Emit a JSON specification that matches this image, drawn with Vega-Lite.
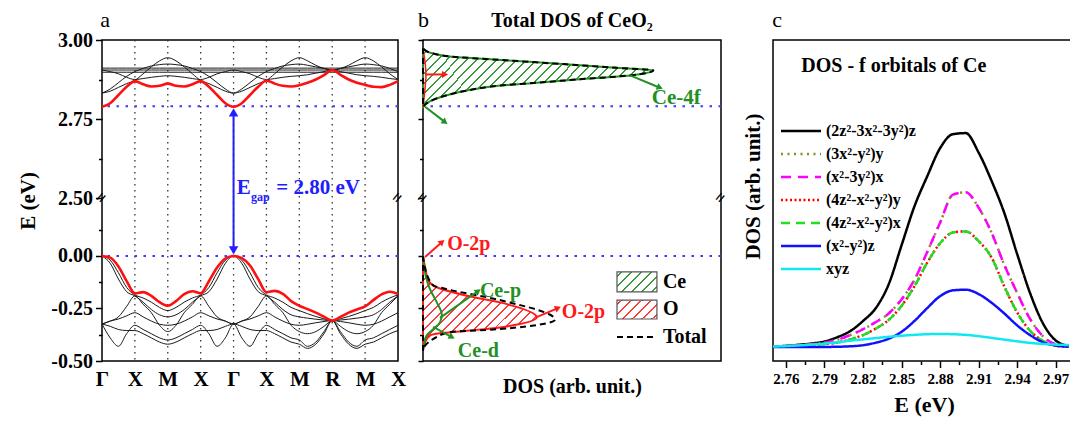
{
"$schema": "https://vega.github.io/schema/vega-lite/v6.json",
"background": "white",
"padding": {"left": 17, "top": 8, "right": 0, "bottom": 0},
"bounds": "full",
"spacing": 9,
"resolve": {"legend": {"color": "independent", "strokeDash": "independent"}},
"datasets": {
 "ceCB": [{"E":2.788,"d":0},{"E":2.806,"d":0.023},{"E":2.822,"d":0.068},{"E":2.84,"d":0.147},{"E":2.856,"d":0.26},{"E":2.864,"d":0.37},{"E":2.875,"d":0.516},{"E":2.888,"d":0.695},{"E":2.904,"d":0.773},{"E":2.912,"d":0.65},{"E":2.923,"d":0.48},{"E":2.937,"d":0.26},{"E":2.948,"d":0.09},{"E":2.957,"d":0.035},{"E":2.971,"d":0.003}],
 "oVB": [{"E":-0.451,"d":0},{"E":-0.411,"d":0.007},{"E":-0.379,"d":0.023},{"E":-0.368,"d":0.057},{"E":-0.356,"d":0.147},{"E":-0.34,"d":0.258},{"E":-0.292,"d":0.382},{"E":-0.221,"d":0.258},{"E":-0.189,"d":0.147},{"E":-0.149,"d":0.046},{"E":-0.117,"d":0.018},{"E":-0.054,"d":0.007},{"E":0,"d":0}],
 "oCB": [{"E":2.788,"d":0},{"E":2.82,"d":0.004},{"E":2.86,"d":0.008},{"E":2.89,"d":0.01},{"E":2.92,"d":0.008},{"E":2.95,"d":0.004},{"E":2.97,"d":0}],
 "ceVB": [{"E":-0.45,"d":0},{"E":-0.419,"d":0.004},{"E":-0.379,"d":0.012},{"E":-0.348,"d":0.035},{"E":-0.316,"d":0.057},{"E":-0.276,"d":0.063},{"E":-0.22,"d":0.046},{"E":-0.157,"d":0.023},{"E":-0.094,"d":0.009},{"E":-0.046,"d":0.004},{"E":0,"d":0}],
 "totVB": [{"E":-0.451,"d":0},{"E":-0.427,"d":0.007},{"E":-0.395,"d":0.035},{"E":-0.363,"d":0.09},{"E":-0.348,"d":0.258},{"E":-0.303,"d":0.443},{"E":-0.21,"d":0.258},{"E":-0.154,"d":0.068},{"E":-0.141,"d":0.035},{"E":-0.06,"d":0.007},{"E":0,"d":0}]
},
"hconcat": [
 {"bounds": "flush", "spacing": 25, "hconcat": [
  {
   "width": 296, "height": 321,
   "data": {"values": [
    {"k":0,"rc":2.789,"rv":0,"c1":2.911,"c2":2.905,"c3":2.898,"c4":2.832,"c5":2.832,"c6":2.905,"v1":0,"v2":0,"v3":-0.324,"v4":-0.324,"v5":-0.324,"v6":-0.324},
    {"k":0.25,"rc":2.8,"rv":-0.008,"c1":2.911,"c2":2.905,"c3":2.898,"c4":2.838,"c5":2.845,"c6":2.9,"v1":-0.02,"v2":-0.035,"v3":-0.31,"v4":-0.39,"v5":-0.31,"v6":-0.335},
    {"k":0.5,"rc":2.826,"rv":-0.05,"c1":2.911,"c2":2.905,"c3":2.898,"c4":2.85,"c5":2.865,"c6":2.893,"v1":-0.08,"v2":-0.11,"v3":-0.3,"v4":-0.43,"v5":-0.29,"v6":-0.35},
    {"k":0.75,"rc":2.852,"rv":-0.12,"c1":2.911,"c2":2.905,"c3":2.898,"c4":2.862,"c5":2.885,"c6":2.882,"v1":-0.15,"v2":-0.17,"v3":-0.285,"v4":-0.37,"v5":-0.24,"v6":-0.355},
    {"k":1,"rc":2.87,"rv":-0.178,"c1":2.911,"c2":2.905,"c3":2.898,"c4":2.872,"c5":2.9,"c6":2.875,"v1":-0.185,"v2":-0.19,"v3":-0.27,"v4":-0.33,"v5":-0.19,"v6":-0.355},
    {"k":1.25,"rc":2.86,"rv":-0.172,"c1":2.911,"c2":2.905,"c3":2.898,"c4":2.893,"c5":2.91,"c6":2.878,"v1":-0.2,"v2":-0.22,"v3":-0.29,"v4":-0.35,"v5":-0.23,"v6":-0.37},
    {"k":1.5,"rc":2.853,"rv":-0.19,"c1":2.911,"c2":2.905,"c3":2.898,"c4":2.915,"c5":2.918,"c6":2.882,"v1":-0.22,"v2":-0.255,"v3":-0.31,"v4":-0.37,"v5":-0.27,"v6":-0.39},
    {"k":1.75,"rc":2.855,"rv":-0.22,"c1":2.911,"c2":2.905,"c3":2.898,"c4":2.934,"c5":2.922,"c6":2.885,"v1":-0.245,"v2":-0.28,"v3":-0.325,"v4":-0.39,"v5":-0.33,"v6":-0.41},
    {"k":2,"rc":2.862,"rv":-0.237,"c1":2.911,"c2":2.905,"c3":2.898,"c4":2.944,"c5":2.924,"c6":2.887,"v1":-0.26,"v2":-0.29,"v3":-0.33,"v4":-0.4,"v5":-0.36,"v6":-0.42},
    {"k":2.25,"rc":2.855,"rv":-0.215,"c1":2.911,"c2":2.905,"c3":2.898,"c4":2.934,"c5":2.922,"c6":2.885,"v1":-0.245,"v2":-0.28,"v3":-0.325,"v4":-0.39,"v5":-0.33,"v6":-0.41},
    {"k":2.5,"rc":2.853,"rv":-0.182,"c1":2.911,"c2":2.905,"c3":2.898,"c4":2.915,"c5":2.918,"c6":2.882,"v1":-0.22,"v2":-0.255,"v3":-0.31,"v4":-0.37,"v5":-0.27,"v6":-0.39},
    {"k":2.75,"rc":2.86,"rv":-0.168,"c1":2.911,"c2":2.905,"c3":2.898,"c4":2.893,"c5":2.91,"c6":2.878,"v1":-0.2,"v2":-0.22,"v3":-0.29,"v4":-0.35,"v5":-0.23,"v6":-0.37},
    {"k":3,"rc":2.87,"rv":-0.178,"c1":2.911,"c2":2.905,"c3":2.898,"c4":2.872,"c5":2.9,"c6":2.875,"v1":-0.185,"v2":-0.19,"v3":-0.27,"v4":-0.33,"v5":-0.19,"v6":-0.355},
    {"k":3.25,"rc":2.852,"rv":-0.12,"c1":2.911,"c2":2.905,"c3":2.898,"c4":2.862,"c5":2.885,"c6":2.882,"v1":-0.15,"v2":-0.17,"v3":-0.285,"v4":-0.37,"v5":-0.24,"v6":-0.355},
    {"k":3.5,"rc":2.826,"rv":-0.055,"c1":2.911,"c2":2.905,"c3":2.898,"c4":2.85,"c5":2.865,"c6":2.893,"v1":-0.08,"v2":-0.11,"v3":-0.3,"v4":-0.43,"v5":-0.29,"v6":-0.35},
    {"k":3.75,"rc":2.8,"rv":-0.012,"c1":2.911,"c2":2.905,"c3":2.898,"c4":2.838,"c5":2.845,"c6":2.9,"v1":-0.02,"v2":-0.035,"v3":-0.31,"v4":-0.39,"v5":-0.31,"v6":-0.335},
    {"k":4,"rc":2.789,"rv":0,"c1":2.911,"c2":2.905,"c3":2.898,"c4":2.832,"c5":2.832,"c6":2.905,"v1":0,"v2":0,"v3":-0.324,"v4":-0.324,"v5":-0.324,"v6":-0.324},
    {"k":4.25,"rc":2.8,"rv":-0.01,"c1":2.911,"c2":2.905,"c3":2.898,"c4":2.838,"c5":2.845,"c6":2.9,"v1":-0.02,"v2":-0.035,"v3":-0.31,"v4":-0.39,"v5":-0.31,"v6":-0.335},
    {"k":4.5,"rc":2.826,"rv":-0.045,"c1":2.911,"c2":2.905,"c3":2.898,"c4":2.85,"c5":2.865,"c6":2.893,"v1":-0.08,"v2":-0.11,"v3":-0.3,"v4":-0.43,"v5":-0.29,"v6":-0.35},
    {"k":4.75,"rc":2.852,"rv":-0.11,"c1":2.911,"c2":2.905,"c3":2.898,"c4":2.862,"c5":2.885,"c6":2.882,"v1":-0.15,"v2":-0.17,"v3":-0.285,"v4":-0.37,"v5":-0.24,"v6":-0.355},
    {"k":5,"rc":2.872,"rv":-0.173,"c1":2.911,"c2":2.905,"c3":2.898,"c4":2.872,"c5":2.9,"c6":2.875,"v1":-0.185,"v2":-0.19,"v3":-0.27,"v4":-0.33,"v5":-0.19,"v6":-0.355},
    {"k":5.25,"rc":2.862,"rv":-0.166,"c1":2.911,"c2":2.905,"c3":2.898,"c4":2.893,"c5":2.91,"c6":2.878,"v1":-0.2,"v2":-0.22,"v3":-0.29,"v4":-0.35,"v5":-0.23,"v6":-0.37},
    {"k":5.5,"rc":2.855,"rv":-0.18,"c1":2.911,"c2":2.905,"c3":2.898,"c4":2.915,"c5":2.918,"c6":2.882,"v1":-0.22,"v2":-0.255,"v3":-0.31,"v4":-0.37,"v5":-0.27,"v6":-0.39},
    {"k":5.75,"rc":2.853,"rv":-0.215,"c1":2.911,"c2":2.905,"c3":2.898,"c4":2.934,"c5":2.922,"c6":2.885,"v1":-0.245,"v2":-0.28,"v3":-0.325,"v4":-0.39,"v5":-0.33,"v6":-0.41},
    {"k":6,"rc":2.857,"rv":-0.237,"c1":2.911,"c2":2.905,"c3":2.898,"c4":2.944,"c5":2.924,"c6":2.887,"v1":-0.26,"v2":-0.29,"v3":-0.33,"v4":-0.4,"v5":-0.36,"v6":-0.42},
    {"k":6.25,"rc":2.865,"rv":-0.253,"c1":2.911,"c2":2.905,"c3":2.898,"c4":2.934,"c5":2.92,"c6":2.89,"v1":-0.275,"v2":-0.296,"v3":-0.325,"v4":-0.43,"v5":-0.37,"v6":-0.44},
    {"k":6.5,"rc":2.875,"rv":-0.27,"c1":2.911,"c2":2.905,"c3":2.898,"c4":2.92,"c5":2.915,"c6":2.895,"v1":-0.288,"v2":-0.301,"v3":-0.318,"v4":-0.41,"v5":-0.36,"v6":-0.42},
    {"k":6.75,"rc":2.889,"rv":-0.289,"c1":2.911,"c2":2.905,"c3":2.898,"c4":2.91,"c5":2.91,"c6":2.9,"v1":-0.299,"v2":-0.305,"v3":-0.312,"v4":-0.36,"v5":-0.335,"v6":-0.37},
    {"k":7,"rc":2.905,"rv":-0.308,"c1":2.911,"c2":2.905,"c3":2.898,"c4":2.905,"c5":2.905,"c6":2.905,"v1":-0.308,"v2":-0.308,"v3":-0.308,"v4":-0.308,"v5":-0.308,"v6":-0.308},
    {"k":7.25,"rc":2.89,"rv":-0.29,"c1":2.911,"c2":2.905,"c3":2.898,"c4":2.91,"c5":2.91,"c6":2.9,"v1":-0.299,"v2":-0.305,"v3":-0.312,"v4":-0.36,"v5":-0.335,"v6":-0.37},
    {"k":7.5,"rc":2.875,"rv":-0.27,"c1":2.911,"c2":2.905,"c3":2.898,"c4":2.92,"c5":2.915,"c6":2.895,"v1":-0.288,"v2":-0.301,"v3":-0.318,"v4":-0.41,"v5":-0.36,"v6":-0.42},
    {"k":7.75,"rc":2.865,"rv":-0.255,"c1":2.911,"c2":2.905,"c3":2.898,"c4":2.934,"c5":2.92,"c6":2.89,"v1":-0.275,"v2":-0.296,"v3":-0.325,"v4":-0.43,"v5":-0.37,"v6":-0.44},
    {"k":8,"rc":2.858,"rv":-0.24,"c1":2.911,"c2":2.905,"c3":2.898,"c4":2.944,"c5":2.924,"c6":2.887,"v1":-0.26,"v2":-0.29,"v3":-0.33,"v4":-0.4,"v5":-0.36,"v6":-0.42},
    {"k":8.25,"rc":2.852,"rv":-0.21,"c1":2.911,"c2":2.905,"c3":2.898,"c4":2.934,"c5":2.922,"c6":2.885,"v1":-0.245,"v2":-0.28,"v3":-0.325,"v4":-0.39,"v5":-0.33,"v6":-0.41},
    {"k":8.5,"rc":2.851,"rv":-0.183,"c1":2.911,"c2":2.905,"c3":2.898,"c4":2.915,"c5":2.918,"c6":2.882,"v1":-0.22,"v2":-0.255,"v3":-0.31,"v4":-0.37,"v5":-0.27,"v6":-0.39},
    {"k":8.75,"rc":2.858,"rv":-0.17,"c1":2.911,"c2":2.905,"c3":2.898,"c4":2.893,"c5":2.91,"c6":2.878,"v1":-0.2,"v2":-0.22,"v3":-0.29,"v4":-0.35,"v5":-0.23,"v6":-0.37},
    {"k":9,"rc":2.87,"rv":-0.18,"c1":2.911,"c2":2.905,"c3":2.898,"c4":2.875,"c5":2.9,"c6":2.875,"v1":-0.185,"v2":-0.19,"v3":-0.27,"v4":-0.33,"v5":-0.19,"v6":-0.355}
   ]},
   "layer": [
    {"data": {"values": [{"k":1},{"k":2},{"k":3},{"k":4},{"k":5},{"k":6},{"k":7},{"k":8}]},
     "mark": {"type": "rule", "strokeDash": [1.5, 4.5], "strokeWidth": 1.3, "color": "#333333"},
     "encoding": {"x": {"field": "k", "type": "quantitative", "title": null}}},
    {"data": {"values": [{}]},
     "mark": {"type": "rule", "strokeDash": [2.5, 6.5], "strokeWidth": 2, "color": "#3a3aff"},
     "encoding": {"y": {"datum": 0, "type": "quantitative"}}},
    {"data": {"values": [{}]},
     "mark": {"type": "rule", "strokeDash": [2.5, 6.5], "strokeWidth": 2, "color": "#3a3aff"},
     "encoding": {"y": {"datum": 2.79, "type": "quantitative"}}},
    {"transform": [{"fold": ["c1","c2","c3","c4","c5","c6","v1","v2","v3","v4","v5","v6"], "as": ["band","e"]}],
     "mark": {"type": "line", "interpolate": "monotone", "strokeWidth": 1, "color": "#1a1a1a"},
     "encoding": {
      "x": {"field": "k", "type": "quantitative", "scale": {"domain": [0, 9], "nice": false, "zero": false},
            "axis": {"values": [0,1,2,3,4,5,6,7,8,9], "tickCount": 30, "labelExpr": "['Γ','X','M','X','Γ','X','M','R','M','X'][datum.value]", "labelOverlap": false, "ticks": false, "domain": false, "title": null, "labelFontSize": 21, "labelPadding": 7}},
      "y": {"field": "e", "type": "quantitative", "scale": {"domain": [-0.5, 0.276, 2.5, 3.0], "range": [321, 158, 158, 0], "nice": false, "zero": false},
            "axis": {"values": [-0.5,-0.375,-0.25,-0.125,0,0.125,2.5,2.625,2.75,2.875,3], "tickCount": 30,
                     "labelExpr": "indexof([-0.375,-0.125,0.125,2.625,2.875], datum.value) >= 0 ? '' : (datum.value < 0 ? '-' : '') + format(abs(datum.value), '.2f')",
                     "tickSize": {"condition": {"test": "indexof([-0.375,-0.125,0.125,2.625,2.875], datum.value) >= 0", "value": 3.5}, "value": 6.5},
                     "labelOverlap": false,
                     "title": "E (eV)", "titleFontSize": 21, "labelFontSize": 20, "labelPadding": 3, "titlePadding": 12, "domain": false}},
      "detail": {"field": "band"}
     }},
    {"transform": [{"fold": ["rc","rv"], "as": ["band","e"]}],
     "mark": {"type": "line", "interpolate": "monotone", "strokeWidth": 2.6, "color": "#ff1010"},
     "encoding": {"x": {"field": "k", "type": "quantitative"}, "y": {"field": "e", "type": "quantitative"}, "detail": {"field": "band"}}},
    {"data": {"values": [{}]},
     "mark": {"type": "rule", "strokeWidth": 2, "color": "#2020ff"},
     "encoding": {"x": {"datum": 4}, "y": {"datum": 0.02}, "y2": {"datum": 2.77}}},
    {"data": {"values": [{}]},
     "mark": {"type": "point", "shape": "triangle-up", "filled": true, "size": 90, "color": "#2020ff", "opacity": 1},
     "encoding": {"x": {"datum": 4}, "y": {"datum": 2.771}}},
    {"data": {"values": [{}]},
     "mark": {"type": "point", "shape": "triangle-down", "filled": true, "size": 90, "color": "#2020ff", "opacity": 1},
     "encoding": {"x": {"datum": 4}, "y": {"datum": 0.027}}},
    {"data": {"values": [{}]},
     "mark": {"type": "text", "text": "E", "fontSize": 21, "fontWeight": "bold", "color": "#2020ff", "align": "left", "baseline": "alphabetic"},
     "encoding": {"x": {"datum": 4.1}, "y": {"datum": 2.513}}},
    {"data": {"values": [{}]},
     "mark": {"type": "text", "text": "gap", "fontSize": 12, "fontWeight": "bold", "color": "#2020ff", "align": "left", "baseline": "alphabetic"},
     "encoding": {"x": {"datum": 4.53}, "y": {"datum": 0.262}}},
    {"data": {"values": [{}]},
     "mark": {"type": "text", "text": "= 2.80 eV", "fontSize": 21, "fontWeight": "bold", "color": "#2020ff", "align": "left", "baseline": "alphabetic"},
     "encoding": {"x": {"datum": 5.3}, "y": {"datum": 2.513}}},
    {"data": {"values": [{}]},
     "mark": {"type": "text", "text": "=", "fontSize": 18, "fontWeight": "bold", "color": "#000", "align": "center", "baseline": "middle", "angle": -50},
     "encoding": {"x": {"datum": 0}, "y": {"datum": 2.5}}},
    {"data": {"values": [{}]},
     "mark": {"type": "text", "text": "=", "fontSize": 18, "fontWeight": "bold", "color": "#000", "align": "center", "baseline": "middle", "angle": -50},
     "encoding": {"x": {"datum": 9}, "y": {"datum": 2.5}}},
    {"data": {"values": [{}]},
     "mark": {"type": "text", "text": "a", "fontSize": 22, "fontWeight": "normal", "color": "#000", "align": "left", "baseline": "alphabetic", "dy": -13},
     "encoding": {"x": {"datum": -0.05}, "y": {"datum": 3.0}}}
   ]
  },
  {
   "width": 298, "height": 321,
   "layer": [
    {"data": {"values": [{}]},
     "mark": {"type": "rule", "strokeDash": [2.5, 6.5], "strokeWidth": 2, "color": "#3a3aff"},
     "encoding": {"y": {"datum": 0, "type": "quantitative"}}},
    {"data": {"values": [{}]},
     "mark": {"type": "rule", "strokeDash": [2.5, 6.5], "strokeWidth": 2, "color": "#3a3aff"},
     "encoding": {"y": {"datum": 2.79, "type": "quantitative"}}},
    {"data": {"name": "ceCB"},
     "mark": {"type": "area", "orient": "horizontal", "interpolate": "monotone", "stroke": "#239023", "strokeWidth": 2,
      "fill": {"gradient": "linear", "x1": 0, "y1": 0, "x2": 1.176, "y2": 0.2915, "stops": [
       {"offset":0,"color":"#fff"},
       {"offset":0.0138,"color":"#fff"},{"offset":0.0138,"color":"#3a9a3a"},{"offset":0.0207,"color":"#3a9a3a"},{"offset":0.0207,"color":"#fff"},
       {"offset":0.0483,"color":"#fff"},{"offset":0.0483,"color":"#3a9a3a"},{"offset":0.0552,"color":"#3a9a3a"},{"offset":0.0552,"color":"#fff"},
       {"offset":0.0828,"color":"#fff"},{"offset":0.0828,"color":"#3a9a3a"},{"offset":0.0897,"color":"#3a9a3a"},{"offset":0.0897,"color":"#fff"},
       {"offset":0.1172,"color":"#fff"},{"offset":0.1172,"color":"#3a9a3a"},{"offset":0.1241,"color":"#3a9a3a"},{"offset":0.1241,"color":"#fff"},
       {"offset":0.1517,"color":"#fff"},{"offset":0.1517,"color":"#3a9a3a"},{"offset":0.1586,"color":"#3a9a3a"},{"offset":0.1586,"color":"#fff"},
       {"offset":0.1862,"color":"#fff"},{"offset":0.1862,"color":"#3a9a3a"},{"offset":0.1931,"color":"#3a9a3a"},{"offset":0.1931,"color":"#fff"},
       {"offset":0.2207,"color":"#fff"},{"offset":0.2207,"color":"#3a9a3a"},{"offset":0.2276,"color":"#3a9a3a"},{"offset":0.2276,"color":"#fff"},
       {"offset":0.2552,"color":"#fff"},{"offset":0.2552,"color":"#3a9a3a"},{"offset":0.2621,"color":"#3a9a3a"},{"offset":0.2621,"color":"#fff"},
       {"offset":0.2897,"color":"#fff"},{"offset":0.2897,"color":"#3a9a3a"},{"offset":0.2966,"color":"#3a9a3a"},{"offset":0.2966,"color":"#fff"},
       {"offset":0.3241,"color":"#fff"},{"offset":0.3241,"color":"#3a9a3a"},{"offset":0.331,"color":"#3a9a3a"},{"offset":0.331,"color":"#fff"},
       {"offset":0.3586,"color":"#fff"},{"offset":0.3586,"color":"#3a9a3a"},{"offset":0.3655,"color":"#3a9a3a"},{"offset":0.3655,"color":"#fff"},
       {"offset":0.3931,"color":"#fff"},{"offset":0.3931,"color":"#3a9a3a"},{"offset":0.4,"color":"#3a9a3a"},{"offset":0.4,"color":"#fff"},
       {"offset":0.4276,"color":"#fff"},{"offset":0.4276,"color":"#3a9a3a"},{"offset":0.4345,"color":"#3a9a3a"},{"offset":0.4345,"color":"#fff"},
       {"offset":0.4621,"color":"#fff"},{"offset":0.4621,"color":"#3a9a3a"},{"offset":0.469,"color":"#3a9a3a"},{"offset":0.469,"color":"#fff"},
       {"offset":0.4966,"color":"#fff"},{"offset":0.4966,"color":"#3a9a3a"},{"offset":0.5034,"color":"#3a9a3a"},{"offset":0.5034,"color":"#fff"},
       {"offset":0.531,"color":"#fff"},{"offset":0.531,"color":"#3a9a3a"},{"offset":0.5379,"color":"#3a9a3a"},{"offset":0.5379,"color":"#fff"},
       {"offset":0.5655,"color":"#fff"},{"offset":0.5655,"color":"#3a9a3a"},{"offset":0.5724,"color":"#3a9a3a"},{"offset":0.5724,"color":"#fff"},
       {"offset":0.6,"color":"#fff"},{"offset":0.6,"color":"#3a9a3a"},{"offset":0.6069,"color":"#3a9a3a"},{"offset":0.6069,"color":"#fff"},
       {"offset":0.6345,"color":"#fff"},{"offset":0.6345,"color":"#3a9a3a"},{"offset":0.6414,"color":"#3a9a3a"},{"offset":0.6414,"color":"#fff"},
       {"offset":0.669,"color":"#fff"},{"offset":0.669,"color":"#3a9a3a"},{"offset":0.6759,"color":"#3a9a3a"},{"offset":0.6759,"color":"#fff"},
       {"offset":0.7034,"color":"#fff"},{"offset":0.7034,"color":"#3a9a3a"},{"offset":0.7103,"color":"#3a9a3a"},{"offset":0.7103,"color":"#fff"},
       {"offset":0.7379,"color":"#fff"},{"offset":0.7379,"color":"#3a9a3a"},{"offset":0.7448,"color":"#3a9a3a"},{"offset":0.7448,"color":"#fff"},
       {"offset":0.7724,"color":"#fff"},{"offset":0.7724,"color":"#3a9a3a"},{"offset":0.7793,"color":"#3a9a3a"},{"offset":0.7793,"color":"#fff"},
       {"offset":0.8069,"color":"#fff"},{"offset":0.8069,"color":"#3a9a3a"},{"offset":0.8138,"color":"#3a9a3a"},{"offset":0.8138,"color":"#fff"},
       {"offset":0.8414,"color":"#fff"},{"offset":0.8414,"color":"#3a9a3a"},{"offset":0.8483,"color":"#3a9a3a"},{"offset":0.8483,"color":"#fff"},
       {"offset":0.8759,"color":"#fff"},{"offset":0.8759,"color":"#3a9a3a"},{"offset":0.8828,"color":"#3a9a3a"},{"offset":0.8828,"color":"#fff"},
       {"offset":0.9103,"color":"#fff"},{"offset":0.9103,"color":"#3a9a3a"},{"offset":0.9172,"color":"#3a9a3a"},{"offset":0.9172,"color":"#fff"},
       {"offset":0.9448,"color":"#fff"},{"offset":0.9448,"color":"#3a9a3a"},{"offset":0.9517,"color":"#3a9a3a"},{"offset":0.9517,"color":"#fff"},
       {"offset":0.9793,"color":"#fff"},{"offset":0.9793,"color":"#3a9a3a"},{"offset":0.9862,"color":"#3a9a3a"},{"offset":0.9862,"color":"#fff"},
       {"offset":1,"color":"#fff"}]}},
     "encoding": {
      "x": {"field": "d", "type": "quantitative", "scale": {"domain": [0, 1], "nice": false, "zero": false},
            "axis": {"title": "DOS (arb. unit.)", "labels": false, "ticks": false, "domain": false, "titleFontSize": 20, "titlePadding": 15}},
      "y": {"field": "E", "type": "quantitative", "scale": {"domain": [-0.5, 0.276, 2.5, 3.0], "range": [321, 158, 158, 0], "nice": false, "zero": false},
            "axis": {"values": [-0.5,-0.375,-0.25,-0.125,0,0.125,2.5,2.625,2.75,2.875,3], "tickCount": 30, "labels": false, "title": null, "domain": false,
                     "tickSize": {"condition": {"test": "indexof([-0.375,-0.125,0.125,2.625,2.875], datum.value) >= 0", "value": 3.5}, "value": 5}}}
     }},
    {"data": {"name": "oVB"},
     "mark": {"type": "area", "orient": "horizontal", "interpolate": "monotone", "stroke": "#ff1a1a", "strokeWidth": 2,
      "fill": {"gradient": "linear", "x1": 0, "y1": 0, "x2": 1.082, "y2": 0.902, "stops": [
       {"offset":0,"color":"#fff"},
       {"offset":0.019,"color":"#fff"},{"offset":0.019,"color":"#ff3a3a"},{"offset":0.0286,"color":"#ff3a3a"},{"offset":0.0286,"color":"#fff"},
       {"offset":0.0667,"color":"#fff"},{"offset":0.0667,"color":"#ff3a3a"},{"offset":0.0762,"color":"#ff3a3a"},{"offset":0.0762,"color":"#fff"},
       {"offset":0.1143,"color":"#fff"},{"offset":0.1143,"color":"#ff3a3a"},{"offset":0.1238,"color":"#ff3a3a"},{"offset":0.1238,"color":"#fff"},
       {"offset":0.1619,"color":"#fff"},{"offset":0.1619,"color":"#ff3a3a"},{"offset":0.1714,"color":"#ff3a3a"},{"offset":0.1714,"color":"#fff"},
       {"offset":0.2095,"color":"#fff"},{"offset":0.2095,"color":"#ff3a3a"},{"offset":0.219,"color":"#ff3a3a"},{"offset":0.219,"color":"#fff"},
       {"offset":0.2571,"color":"#fff"},{"offset":0.2571,"color":"#ff3a3a"},{"offset":0.2667,"color":"#ff3a3a"},{"offset":0.2667,"color":"#fff"},
       {"offset":0.3048,"color":"#fff"},{"offset":0.3048,"color":"#ff3a3a"},{"offset":0.3143,"color":"#ff3a3a"},{"offset":0.3143,"color":"#fff"},
       {"offset":0.3524,"color":"#fff"},{"offset":0.3524,"color":"#ff3a3a"},{"offset":0.3619,"color":"#ff3a3a"},{"offset":0.3619,"color":"#fff"},
       {"offset":0.4,"color":"#fff"},{"offset":0.4,"color":"#ff3a3a"},{"offset":0.4095,"color":"#ff3a3a"},{"offset":0.4095,"color":"#fff"},
       {"offset":0.4476,"color":"#fff"},{"offset":0.4476,"color":"#ff3a3a"},{"offset":0.4571,"color":"#ff3a3a"},{"offset":0.4571,"color":"#fff"},
       {"offset":0.4952,"color":"#fff"},{"offset":0.4952,"color":"#ff3a3a"},{"offset":0.5048,"color":"#ff3a3a"},{"offset":0.5048,"color":"#fff"},
       {"offset":0.5429,"color":"#fff"},{"offset":0.5429,"color":"#ff3a3a"},{"offset":0.5524,"color":"#ff3a3a"},{"offset":0.5524,"color":"#fff"},
       {"offset":0.5905,"color":"#fff"},{"offset":0.5905,"color":"#ff3a3a"},{"offset":0.6,"color":"#ff3a3a"},{"offset":0.6,"color":"#fff"},
       {"offset":0.6381,"color":"#fff"},{"offset":0.6381,"color":"#ff3a3a"},{"offset":0.6476,"color":"#ff3a3a"},{"offset":0.6476,"color":"#fff"},
       {"offset":0.6857,"color":"#fff"},{"offset":0.6857,"color":"#ff3a3a"},{"offset":0.6952,"color":"#ff3a3a"},{"offset":0.6952,"color":"#fff"},
       {"offset":0.7333,"color":"#fff"},{"offset":0.7333,"color":"#ff3a3a"},{"offset":0.7429,"color":"#ff3a3a"},{"offset":0.7429,"color":"#fff"},
       {"offset":0.781,"color":"#fff"},{"offset":0.781,"color":"#ff3a3a"},{"offset":0.7905,"color":"#ff3a3a"},{"offset":0.7905,"color":"#fff"},
       {"offset":0.8286,"color":"#fff"},{"offset":0.8286,"color":"#ff3a3a"},{"offset":0.8381,"color":"#ff3a3a"},{"offset":0.8381,"color":"#fff"},
       {"offset":0.8762,"color":"#fff"},{"offset":0.8762,"color":"#ff3a3a"},{"offset":0.8857,"color":"#ff3a3a"},{"offset":0.8857,"color":"#fff"},
       {"offset":0.9238,"color":"#fff"},{"offset":0.9238,"color":"#ff3a3a"},{"offset":0.9333,"color":"#ff3a3a"},{"offset":0.9333,"color":"#fff"},
       {"offset":0.9714,"color":"#fff"},{"offset":0.9714,"color":"#ff3a3a"},{"offset":0.981,"color":"#ff3a3a"},{"offset":0.981,"color":"#fff"},
       {"offset":1,"color":"#fff"}]}},
     "encoding": {"x": {"field": "d", "type": "quantitative"}, "y": {"field": "E", "type": "quantitative"}}},
    {"data": {"name": "oCB"},
     "mark": {"type": "line", "interpolate": "catmull-rom", "strokeWidth": 1.5, "color": "#ff1a1a"},
     "encoding": {"x": {"field": "d", "type": "quantitative"}, "y": {"field": "E", "type": "quantitative"}, "order": {"field": "E", "type": "quantitative"}}},
    {"data": {"name": "ceVB"},
     "mark": {"type": "line", "interpolate": "catmull-rom", "strokeWidth": 2, "color": "#239023"},
     "encoding": {"x": {"field": "d", "type": "quantitative"}, "y": {"field": "E", "type": "quantitative"}, "order": {"field": "E", "type": "quantitative"}}},
    {"data": {"name": "ceCB"},
     "mark": {"type": "area", "orient": "horizontal", "interpolate": "monotone", "fill": "transparent", "stroke": "#000", "strokeWidth": 2, "strokeDash": [6, 4]},
     "encoding": {"x": {"field": "d", "type": "quantitative"}, "y": {"field": "E", "type": "quantitative"}}},
    {"data": {"name": "totVB"},
     "mark": {"type": "area", "orient": "horizontal", "interpolate": "monotone", "fill": "transparent", "stroke": "#000", "strokeWidth": 2, "strokeDash": [6, 4]},
     "encoding": {"x": {"field": "d", "type": "quantitative"}, "y": {"field": "E", "type": "quantitative"}}},
    {"data": {"values": [{}]}, "mark": {"type": "rule", "strokeWidth": 2, "color": "#239023"},
     "encoding": {"x": {"datum": 0.695}, "x2": {"datum": 0.795}, "y": {"datum": 2.888}, "y2": {"datum": 2.849}}},
    {"data": {"values": [{}]}, "mark": {"type": "point", "shape": "triangle-right", "filled": true, "size": 50, "angle": 21.8, "color": "#239023", "opacity": 1},
     "encoding": {"x": {"datum": 0.795}, "y": {"datum": 2.849}}},
    {"data": {"values": [{}]}, "mark": {"type": "rule", "strokeWidth": 2, "color": "#239023"},
     "encoding": {"x": {"datum": 0.007}, "x2": {"datum": 0.074}, "y": {"datum": 2.789}, "y2": {"datum": 2.74}}},
    {"data": {"values": [{}]}, "mark": {"type": "point", "shape": "triangle-right", "filled": true, "size": 50, "angle": 36.9, "color": "#239023", "opacity": 1},
     "encoding": {"x": {"datum": 0.074}, "y": {"datum": 2.74}}},
    {"data": {"values": [{}]}, "mark": {"type": "rule", "strokeWidth": 2, "color": "#ff1a1a"},
     "encoding": {"x": {"datum": 0.007}, "x2": {"datum": 0.074}, "y": {"datum": 2.891}, "y2": {"datum": 2.891}}},
    {"data": {"values": [{}]}, "mark": {"type": "point", "shape": "triangle-right", "filled": true, "size": 50, "angle": 0, "color": "#ff1a1a", "opacity": 1},
     "encoding": {"x": {"datum": 0.074}, "y": {"datum": 2.891}}},
    {"data": {"values": [{}]}, "mark": {"type": "rule", "strokeWidth": 2, "color": "#ff1a1a"},
     "encoding": {"x": {"datum": 0.007}, "x2": {"datum": 0.064}, "y": {"datum": -0.005}, "y2": {"datum": 0.067}}},
    {"data": {"values": [{}]}, "mark": {"type": "point", "shape": "triangle-right", "filled": true, "size": 50, "angle": -41.4, "color": "#ff1a1a", "opacity": 1},
     "encoding": {"x": {"datum": 0.064}, "y": {"datum": 0.067}}},
    {"data": {"values": [{}]}, "mark": {"type": "rule", "strokeWidth": 2, "color": "#239023"},
     "encoding": {"x": {"datum": 0.057}, "x2": {"datum": 0.185}, "y": {"datum": -0.295}, "y2": {"datum": -0.167}}},
    {"data": {"values": [{}]}, "mark": {"type": "point", "shape": "triangle-right", "filled": true, "size": 50, "angle": -35.4, "color": "#239023", "opacity": 1},
     "encoding": {"x": {"datum": 0.185}, "y": {"datum": -0.167}}},
    {"data": {"values": [{}]}, "mark": {"type": "rule", "strokeWidth": 2, "color": "#ff1a1a"},
     "encoding": {"x": {"datum": 0.383}, "x2": {"datum": 0.453}, "y": {"datum": -0.29}, "y2": {"datum": -0.248}}},
    {"data": {"values": [{}]}, "mark": {"type": "point", "shape": "triangle-right", "filled": true, "size": 50, "angle": -23.2, "color": "#ff1a1a", "opacity": 1},
     "encoding": {"x": {"datum": 0.453}, "y": {"datum": -0.248}}},
    {"data": {"values": [{}]}, "mark": {"type": "rule", "strokeWidth": 2, "color": "#239023"},
     "encoding": {"x": {"datum": 0.034}, "x2": {"datum": 0.097}, "y": {"datum": -0.338}, "y2": {"datum": -0.386}}},
    {"data": {"values": [{}]}, "mark": {"type": "point", "shape": "triangle-right", "filled": true, "size": 50, "angle": 27.8, "color": "#239023", "opacity": 1},
     "encoding": {"x": {"datum": 0.097}, "y": {"datum": -0.386}}},
    {"data": {"values": [{}]}, "mark": {"type": "text", "text": "Ce-4f", "fontSize": 21, "fontWeight": "bold", "color": "#239023", "align": "left", "baseline": "middle"},
     "encoding": {"x": {"datum": 0.768}, "y": {"datum": 2.817}}},
    {"data": {"values": [{}]}, "mark": {"type": "text", "text": "O-2p", "fontSize": 20, "fontWeight": "bold", "color": "#ff1a1a", "align": "left", "baseline": "middle"},
     "encoding": {"x": {"datum": 0.081}, "y": {"datum": 0.057}}},
    {"data": {"values": [{}]}, "mark": {"type": "text", "text": "Ce-p", "fontSize": 20, "fontWeight": "bold", "color": "#239023", "align": "left", "baseline": "middle"},
     "encoding": {"x": {"datum": 0.191}, "y": {"datum": -0.167}}},
    {"data": {"values": [{}]}, "mark": {"type": "text", "text": "O-2p", "fontSize": 20, "fontWeight": "bold", "color": "#ff1a1a", "align": "left", "baseline": "middle"},
     "encoding": {"x": {"datum": 0.466}, "y": {"datum": -0.267}}},
    {"data": {"values": [{}]}, "mark": {"type": "text", "text": "Ce-d", "fontSize": 20, "fontWeight": "bold", "color": "#239023", "align": "left", "baseline": "middle"},
     "encoding": {"x": {"datum": 0.117}, "y": {"datum": -0.452}}},
    {"data": {"values": [{}]},
     "mark": {"type": "rect", "stroke": "#555", "strokeWidth": 1.2,
      "fill": {"gradient": "linear", "x1": 0, "y1": 0, "x2": 1.2, "y2": 0.6, "stops": [
       {"offset":0,"color":"#fff"},
       {"offset":0.0667,"color":"#fff"},{"offset":0.0667,"color":"#3a9a3a"},{"offset":0.1,"color":"#3a9a3a"},{"offset":0.1,"color":"#fff"},
       {"offset":0.2333,"color":"#fff"},{"offset":0.2333,"color":"#3a9a3a"},{"offset":0.2667,"color":"#3a9a3a"},{"offset":0.2667,"color":"#fff"},
       {"offset":0.4,"color":"#fff"},{"offset":0.4,"color":"#3a9a3a"},{"offset":0.4333,"color":"#3a9a3a"},{"offset":0.4333,"color":"#fff"},
       {"offset":0.5667,"color":"#fff"},{"offset":0.5667,"color":"#3a9a3a"},{"offset":0.6,"color":"#3a9a3a"},{"offset":0.6,"color":"#fff"},
       {"offset":0.7333,"color":"#fff"},{"offset":0.7333,"color":"#3a9a3a"},{"offset":0.7667,"color":"#3a9a3a"},{"offset":0.7667,"color":"#fff"},
       {"offset":0.9,"color":"#fff"},{"offset":0.9,"color":"#3a9a3a"},{"offset":0.9333,"color":"#3a9a3a"},{"offset":0.9333,"color":"#fff"},
       {"offset":1,"color":"#fff"}]}},
     "encoding": {"x": {"datum": 0.651}, "x2": {"datum": 0.785}, "y": {"datum": -0.076}, "y2": {"datum": -0.171}}},
    {"data": {"values": [{}]},
     "mark": {"type": "rect", "stroke": "#555", "strokeWidth": 1.2,
      "fill": {"gradient": "linear", "x1": 0, "y1": 0, "x2": 1.2, "y2": 0.6, "stops": [
       {"offset":0,"color":"#fff"},
       {"offset":0.0667,"color":"#fff"},{"offset":0.0667,"color":"#ff3a3a"},{"offset":0.1,"color":"#ff3a3a"},{"offset":0.1,"color":"#fff"},
       {"offset":0.2333,"color":"#fff"},{"offset":0.2333,"color":"#ff3a3a"},{"offset":0.2667,"color":"#ff3a3a"},{"offset":0.2667,"color":"#fff"},
       {"offset":0.4,"color":"#fff"},{"offset":0.4,"color":"#ff3a3a"},{"offset":0.4333,"color":"#ff3a3a"},{"offset":0.4333,"color":"#fff"},
       {"offset":0.5667,"color":"#fff"},{"offset":0.5667,"color":"#ff3a3a"},{"offset":0.6,"color":"#ff3a3a"},{"offset":0.6,"color":"#fff"},
       {"offset":0.7333,"color":"#fff"},{"offset":0.7333,"color":"#ff3a3a"},{"offset":0.7667,"color":"#ff3a3a"},{"offset":0.7667,"color":"#fff"},
       {"offset":0.9,"color":"#fff"},{"offset":0.9,"color":"#ff3a3a"},{"offset":0.9333,"color":"#ff3a3a"},{"offset":0.9333,"color":"#fff"},
       {"offset":1,"color":"#fff"}]}},
     "encoding": {"x": {"datum": 0.651}, "x2": {"datum": 0.785}, "y": {"datum": -0.21}, "y2": {"datum": -0.3}}},
    {"data": {"values": [{}]}, "mark": {"type": "rule", "strokeWidth": 2, "color": "#000", "strokeDash": [6, 4]},
     "encoding": {"x": {"datum": 0.651}, "x2": {"datum": 0.785}, "y": {"datum": -0.386}, "y2": {"datum": -0.386}}},
    {"data": {"values": [{}]}, "mark": {"type": "text", "text": "Ce", "fontSize": 20, "fontWeight": "bold", "color": "#000", "align": "left", "baseline": "middle"},
     "encoding": {"x": {"datum": 0.805}, "y": {"datum": -0.124}}},
    {"data": {"values": [{}]}, "mark": {"type": "text", "text": "O", "fontSize": 20, "fontWeight": "bold", "color": "#000", "align": "left", "baseline": "middle"},
     "encoding": {"x": {"datum": 0.805}, "y": {"datum": -0.252}}},
    {"data": {"values": [{}]}, "mark": {"type": "text", "text": "Total", "fontSize": 20, "fontWeight": "bold", "color": "#000", "align": "left", "baseline": "middle"},
     "encoding": {"x": {"datum": 0.805}, "y": {"datum": -0.386}}},
    {"data": {"values": [{}]}, "mark": {"type": "text", "text": "b", "fontSize": 22, "fontWeight": "normal", "color": "#000", "align": "left", "baseline": "alphabetic", "dy": -13},
     "encoding": {"x": {"datum": -0.017}, "y": {"datum": 3.0}}},
    {"data": {"values": [{}]}, "mark": {"type": "text", "text": "Total DOS of CeO₂", "fontSize": 20, "fontWeight": "bold", "color": "#000", "align": "center", "baseline": "alphabetic", "dy": -13},
     "encoding": {"x": {"datum": 0.5}, "y": {"datum": 3.0}}},
    {"data": {"values": [{}]},
     "mark": {"type": "text", "text": "=", "fontSize": 18, "fontWeight": "bold", "color": "#000", "align": "center", "baseline": "middle", "angle": -50},
     "encoding": {"x": {"datum": 0}, "y": {"datum": 2.5}}},
    {"data": {"values": [{}]},
     "mark": {"type": "text", "text": "=", "fontSize": 18, "fontWeight": "bold", "color": "#000", "align": "center", "baseline": "middle", "angle": -50},
     "encoding": {"x": {"datum": 1}, "y": {"datum": 2.5}}}
   ]
  }
 ]},
 {
  "width": 302, "height": 321,
  "layer": [
   {"data": {"values": [
     {"E":2.75,"(2z²-3x²-3y²)z":0.002,"(3x²-y²)y":0.002,"(x²-3y²)x":0.002,"(4z²-x²-y²)y":0.001,"(4z²-x²-y²)x":0.001,"(x²-y²)z":0,"xyz":0.002},
     {"E":2.76,"(2z²-3x²-3y²)z":0.005,"(3x²-y²)y":0.004,"(x²-3y²)x":0.004,"(4z²-x²-y²)y":0.003,"(4z²-x²-y²)x":0.003,"(x²-y²)z":0,"xyz":0.004},
     {"E":2.77,"(2z²-3x²-3y²)z":0.01,"(3x²-y²)y":0.008,"(x²-3y²)x":0.008,"(4z²-x²-y²)y":0.006,"(4z²-x²-y²)x":0.006,"(x²-y²)z":0,"xyz":0.007},
     {"E":2.78,"(2z²-3x²-3y²)z":0.016,"(3x²-y²)y":0.013,"(x²-3y²)x":0.013,"(4z²-x²-y²)y":0.01,"(4z²-x²-y²)x":0.01,"(x²-y²)z":0,"xyz":0.011},
     {"E":2.79,"(2z²-3x²-3y²)z":0.025,"(3x²-y²)y":0.02,"(x²-3y²)x":0.02,"(4z²-x²-y²)y":0.014,"(4z²-x²-y²)x":0.014,"(x²-y²)z":0,"xyz":0.016},
     {"E":2.8,"(2z²-3x²-3y²)z":0.045,"(3x²-y²)y":0.033,"(x²-3y²)x":0.033,"(4z²-x²-y²)y":0.02,"(4z²-x²-y²)x":0.02,"(x²-y²)z":0.001,"xyz":0.022},
     {"E":2.81,"(2z²-3x²-3y²)z":0.073,"(3x²-y²)y":0.055,"(x²-3y²)x":0.055,"(4z²-x²-y²)y":0.035,"(4z²-x²-y²)x":0.035,"(x²-y²)z":0.003,"xyz":0.029},
     {"E":2.82,"(2z²-3x²-3y²)z":0.12,"(3x²-y²)y":0.082,"(x²-3y²)x":0.082,"(4z²-x²-y²)y":0.055,"(4z²-x²-y²)x":0.055,"(x²-y²)z":0.008,"xyz":0.035},
     {"E":2.83,"(2z²-3x²-3y²)z":0.18,"(3x²-y²)y":0.115,"(x²-3y²)x":0.115,"(4z²-x²-y²)y":0.085,"(4z²-x²-y²)x":0.085,"(x²-y²)z":0.02,"xyz":0.041},
     {"E":2.84,"(2z²-3x²-3y²)z":0.29,"(3x²-y²)y":0.155,"(x²-3y²)x":0.155,"(4z²-x²-y²)y":0.125,"(4z²-x²-y²)x":0.125,"(x²-y²)z":0.038,"xyz":0.047},
     {"E":2.85,"(2z²-3x²-3y²)z":0.47,"(3x²-y²)y":0.22,"(x²-3y²)x":0.22,"(4z²-x²-y²)y":0.19,"(4z²-x²-y²)x":0.19,"(x²-y²)z":0.07,"xyz":0.052},
     {"E":2.86,"(2z²-3x²-3y²)z":0.65,"(3x²-y²)y":0.31,"(x²-3y²)x":0.31,"(4z²-x²-y²)y":0.28,"(4z²-x²-y²)x":0.28,"(x²-y²)z":0.12,"xyz":0.056},
     {"E":2.87,"(2z²-3x²-3y²)z":0.79,"(3x²-y²)y":0.44,"(x²-3y²)x":0.44,"(4z²-x²-y²)y":0.39,"(4z²-x²-y²)x":0.39,"(x²-y²)z":0.18,"xyz":0.059},
     {"E":2.88,"(2z²-3x²-3y²)z":0.92,"(3x²-y²)y":0.575,"(x²-3y²)x":0.575,"(4z²-x²-y²)y":0.48,"(4z²-x²-y²)x":0.48,"(x²-y²)z":0.235,"xyz":0.06},
     {"E":2.89,"(2z²-3x²-3y²)z":0.985,"(3x²-y²)y":0.705,"(x²-3y²)x":0.705,"(4z²-x²-y²)y":0.53,"(4z²-x²-y²)x":0.53,"(x²-y²)z":0.262,"xyz":0.059},
     {"E":2.9,"(2z²-3x²-3y²)z":0.99,"(3x²-y²)y":0.716,"(x²-3y²)x":0.716,"(4z²-x²-y²)y":0.535,"(4z²-x²-y²)x":0.535,"(x²-y²)z":0.265,"xyz":0.056},
     {"E":2.91,"(2z²-3x²-3y²)z":0.9,"(3x²-y²)y":0.645,"(x²-3y²)x":0.645,"(4z²-x²-y²)y":0.49,"(4z²-x²-y²)x":0.49,"(x²-y²)z":0.245,"xyz":0.05},
     {"E":2.92,"(2z²-3x²-3y²)z":0.77,"(3x²-y²)y":0.53,"(x²-3y²)x":0.53,"(4z²-x²-y²)y":0.415,"(4z²-x²-y²)x":0.415,"(x²-y²)z":0.205,"xyz":0.042},
     {"E":2.93,"(2z²-3x²-3y²)z":0.62,"(3x²-y²)y":0.38,"(x²-3y²)x":0.38,"(4z²-x²-y²)y":0.28,"(4z²-x²-y²)x":0.28,"(x²-y²)z":0.155,"xyz":0.034},
     {"E":2.94,"(2z²-3x²-3y²)z":0.43,"(3x²-y²)y":0.25,"(x²-3y²)x":0.25,"(4z²-x²-y²)y":0.16,"(4z²-x²-y²)x":0.16,"(x²-y²)z":0.1,"xyz":0.026},
     {"E":2.95,"(2z²-3x²-3y²)z":0.25,"(3x²-y²)y":0.13,"(x²-3y²)x":0.13,"(4z²-x²-y²)y":0.075,"(4z²-x²-y²)x":0.075,"(x²-y²)z":0.055,"xyz":0.019},
     {"E":2.96,"(2z²-3x²-3y²)z":0.11,"(3x²-y²)y":0.05,"(x²-3y²)x":0.05,"(4z²-x²-y²)y":0.028,"(4z²-x²-y²)x":0.028,"(x²-y²)z":0.022,"xyz":0.014},
     {"E":2.97,"(2z²-3x²-3y²)z":0.03,"(3x²-y²)y":0.012,"(x²-3y²)x":0.012,"(4z²-x²-y²)y":0.006,"(4z²-x²-y²)x":0.006,"(x²-y²)z":0.007,"xyz":0.011},
     {"E":2.98,"(2z²-3x²-3y²)z":0.005,"(3x²-y²)y":0.002,"(x²-3y²)x":0.002,"(4z²-x²-y²)y":0.001,"(4z²-x²-y²)x":0.001,"(x²-y²)z":0.001,"xyz":0.009}
    ]},
    "transform": [{"fold": ["(2z²-3x²-3y²)z","(3x²-y²)y","(x²-3y²)x","(4z²-x²-y²)y","(4z²-x²-y²)x","(x²-y²)z","xyz"], "as": ["s","v"]}],
    "mark": {"type": "line", "strokeWidth": 2.5, "interpolate": "monotone"},
    "encoding": {
     "x": {"field": "E", "type": "quantitative", "scale": {"domain": [2.75, 2.985], "nice": false, "zero": false},
           "axis": {"values": [2.76,2.775,2.79,2.805,2.82,2.835,2.85,2.865,2.88,2.895,2.91,2.925,2.94,2.955,2.97], "tickCount": 30,
                    "labelExpr": "round(datum.value*1000) % 30 != 0 ? '' : format(datum.value, '.2f')",
                    "tickSize": {"condition": {"test": "round(datum.value*1000) % 30 != 0", "value": 3.5}, "value": 6.5},
                    "labelOverlap": false,
                    "title": "E (eV)", "titleFontSize": 22, "labelFontSize": 15, "labelPadding": 4, "titlePadding": 8, "domain": false}},
     "y": {"field": "v", "type": "quantitative", "scale": {"domain": [-0.065, 1.421], "nice": false, "zero": false},
           "axis": {"labels": false, "ticks": false, "domain": false, "title": "DOS (arb. unit.)", "titleFontSize": 21, "titlePadding": 10, "titleY": 146}},
     "color": {"field": "s", "type": "nominal",
               "scale": {"domain": ["(2z²-3x²-3y²)z","(3x²-y²)y","(x²-3y²)x","(4z²-x²-y²)y","(4z²-x²-y²)x","(x²-y²)z","xyz"],
                         "range": ["#000000","#8c8c1a","#ff00ff","#ff0000","#22dd22","#1010ff","#10e8f0"]},
               "legend": {"orient": "none", "legendX": 20, "legendY": 83, "title": null, "symbolType": "M-4,0H4", "symbolSize": 100, "symbolStrokeWidth": 2.5,
                          "labelFontSize": 16, "labelFont": "Liberation Serif", "labelFontWeight": "bold", "labelColor": "#000", "rowPadding": 7, "labelOffset": 17, "padding": 0}},
     "strokeDash": {"field": "s", "type": "nominal",
               "scale": {"domain": ["(2z²-3x²-3y²)z","(3x²-y²)y","(x²-3y²)x","(4z²-x²-y²)y","(4z²-x²-y²)x","(x²-y²)z","xyz"],
                         "range": [[1,0],[2,4.5],[10,7],[2,2.5],[9,6],[1,0],[1,0]]}}
    }},
   {"data": {"values": [{}]},
    "mark": {"type": "text", "text": "DOS - f orbitals of Ce", "fontSize": 20, "fontWeight": "bold", "color": "#000", "align": "left", "baseline": "middle"},
    "encoding": {"x": {"datum": 2.772}, "y": {"datum": 1.3}}},
   {"data": {"values": [{}]},
    "mark": {"type": "text", "text": "c", "fontSize": 22, "fontWeight": "normal", "color": "#000", "align": "left", "baseline": "alphabetic", "dy": -13},
    "encoding": {"x": {"datum": 2.7495}, "y": {"datum": 1.421}}}
  ]
 }
],
"config": {
 "font": "Liberation Serif",
 "view": {"stroke": "#000", "strokeWidth": 1.5},
 "axis": {"grid": false, "labelFont": "Liberation Serif", "titleFont": "Liberation Serif", "labelFontWeight": "bold", "titleFontWeight": "bold",
          "labelColor": "#000", "titleColor": "#000", "domainColor": "#000", "tickColor": "#000", "tickWidth": 1.5, "labelFlush": false, "labelOverlap": false},
 "text": {"font": "Liberation Serif"}
}
}
